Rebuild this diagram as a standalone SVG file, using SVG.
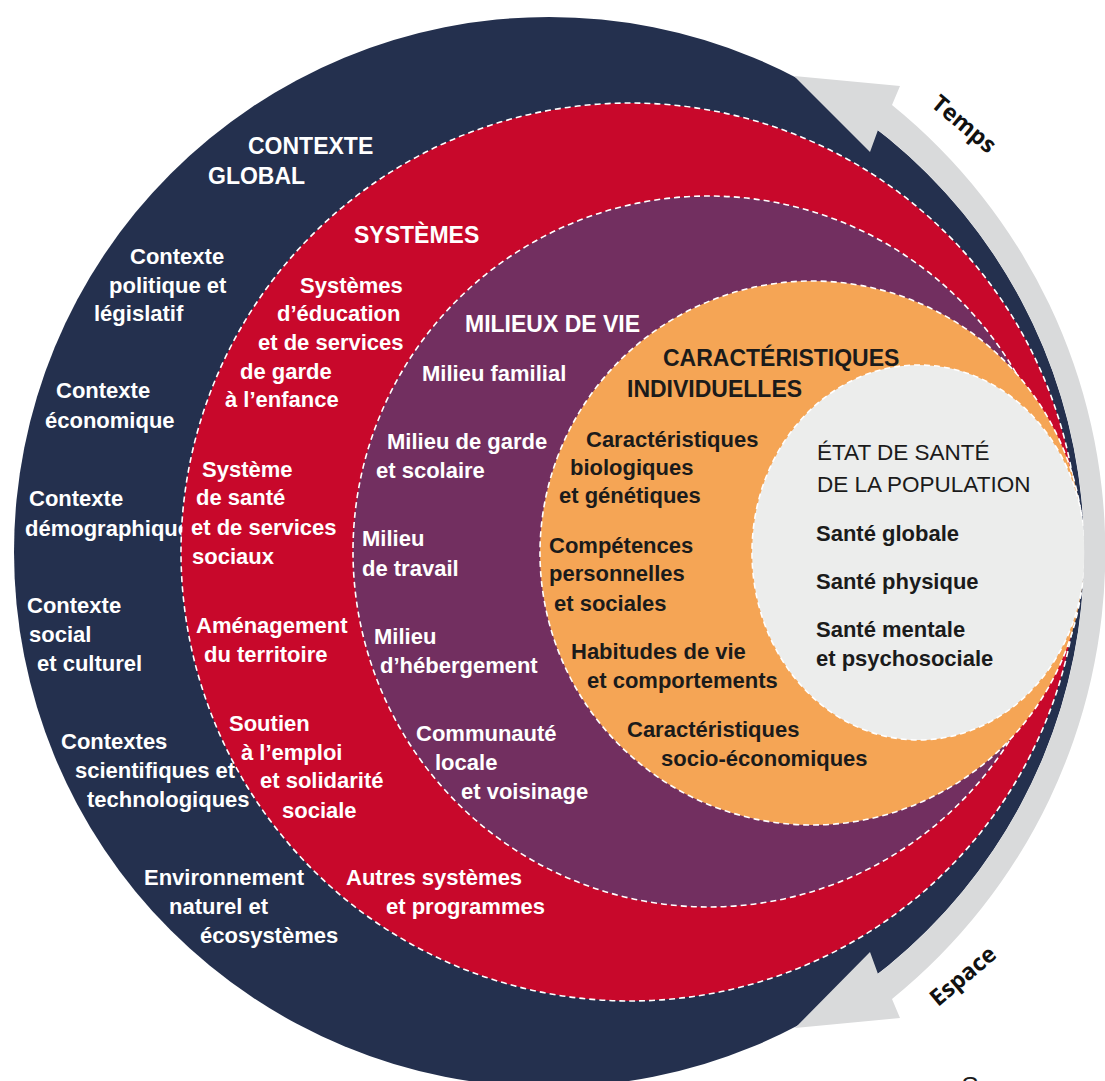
<svg xmlns="http://www.w3.org/2000/svg" width="1105" height="1081" viewBox="0 0 1105 1081">
<style>
  .edge { stroke:#ffffff; stroke-width:1.6; stroke-dasharray:6 4; }
  text { font-family:"Liberation Sans", Arial, sans-serif; font-weight:700; font-size:22px; }
  .w { fill:#ffffff; }
  .k { fill:#1b1b1b; }
  .h { font-size:23px; }
  .reg { font-weight:400; font-size:22.5px; }
  .lbl { font-family:"Open Sans", "Liberation Sans", sans-serif; font-size:23px; fill:#111111; }
</style>
<rect width="1105" height="1081" fill="#ffffff"/>

<g id="contexte-global">
  <circle cx="549" cy="552" r="535" fill="#24304e"/>
  <g class="w">
    <text class="h" x="248" y="154">CONTEXTE</text>
    <text class="h" x="208" y="184">GLOBAL</text>
    <text x="130" y="264">Contexte</text>
    <text x="109" y="293">politique et</text>
    <text x="94" y="321">législatif</text>
    <text x="56" y="398">Contexte</text>
    <text x="45" y="428">économique</text>
    <text x="29" y="506">Contexte</text>
    <text x="25" y="536">démographique</text>
    <text x="27" y="613">Contexte</text>
    <text x="29" y="642">social</text>
    <text x="37" y="671">et culturel</text>
    <text x="61" y="749">Contextes</text>
    <text x="75" y="778">scientifiques et</text>
    <text x="87" y="807">technologiques</text>
    <text x="144" y="885">Environnement</text>
    <text x="169" y="914">naturel et</text>
    <text x="200" y="943">écosystèmes</text>
  </g>
</g>

<g id="systemes">
  <circle class="edge" cx="630" cy="552" r="449" fill="#c8082b"/>
  <g class="w">
    <text class="h" x="354" y="243">SYSTÈMES</text>
    <text x="300" y="293">Systèmes</text>
    <text x="277" y="321">d’éducation</text>
    <text x="258" y="350">et de services</text>
    <text x="240" y="379">de garde</text>
    <text x="225" y="407">à l’enfance</text>
    <text x="202" y="477">Système</text>
    <text x="196" y="505">de santé</text>
    <text x="191" y="535">et de services</text>
    <text x="192" y="564">sociaux</text>
    <text x="196" y="633">Aménagement</text>
    <text x="204" y="662">du territoire</text>
    <text x="229" y="731">Soutien</text>
    <text x="241" y="760">à l’emploi</text>
    <text x="260" y="788">et solidarité</text>
    <text x="282" y="818">sociale</text>
    <text x="346" y="885">Autres systèmes</text>
    <text x="386" y="914">et programmes</text>
  </g>
</g>

<g id="milieux-de-vie">
  <circle class="edge" cx="708.5" cy="551.5" r="355.5" fill="#722f60"/>
  <g class="w">
    <text class="h" x="465" y="332">MILIEUX DE VIE</text>
    <text x="422" y="381">Milieu familial</text>
    <text x="387" y="449">Milieu de garde</text>
    <text x="376" y="478">et scolaire</text>
    <text x="362" y="546">Milieu</text>
    <text x="362" y="576">de travail</text>
    <text x="374" y="644">Milieu</text>
    <text x="380" y="673">d’hébergement</text>
    <text x="416" y="741">Communauté</text>
    <text x="435" y="770">locale</text>
    <text x="461" y="799">et voisinage</text>
  </g>
</g>

<g id="caracteristiques-individuelles">
  <circle class="edge" cx="812" cy="553" r="272" fill="#f5a555"/>
  <g class="k">
    <text class="h" x="663" y="366">CARACTÉRISTIQUES</text>
    <text class="h" x="627" y="397">INDIVIDUELLES</text>
    <text x="586" y="447">Caractéristiques</text>
    <text x="570" y="475">biologiques</text>
    <text x="559" y="503">et génétiques</text>
    <text x="549" y="553">Compétences</text>
    <text x="549" y="581">personnelles</text>
    <text x="554" y="611">et sociales</text>
    <text x="571" y="659">Habitudes de vie</text>
    <text x="587" y="688">et comportements</text>
    <text x="627" y="737">Caractéristiques</text>
    <text x="661" y="766">socio-économiques</text>
  </g>
</g>

<g id="etat-de-sante">
  <ellipse class="edge" cx="918.5" cy="552.5" rx="166.5" ry="187.5" fill="#ecedec"/>
  <g class="k">
    <text class="reg" x="817" y="460">ÉTAT DE SANTÉ</text>
    <text class="reg" x="817" y="492">DE LA POPULATION</text>
    <text x="816" y="541">Santé globale</text>
    <text x="816" y="589">Santé physique</text>
    <text x="816" y="637">Santé mentale</text>
    <text x="816" y="666">et psychosociale</text>
  </g>
</g>

<g id="connectors">
  <path d="M794,76 L900,86 L892,105 A575,575 0 0 1 892,999 L900,1018 L795,1028 L870,952 L878,974 A535,535 0 0 0 878,130 L870,152 Z" fill="#d9dadb"/>
  <text class="lbl" text-anchor="middle" transform="translate(959,130) rotate(40)">Temps</text>
  <text class="lbl" text-anchor="middle" transform="translate(968,982) rotate(-40)">Espace</text>
</g>

<text x="960" y="1095" style="font-weight:400;font-style:italic;font-size:26px" fill="#1b1b1b">Source</text>
</svg>
